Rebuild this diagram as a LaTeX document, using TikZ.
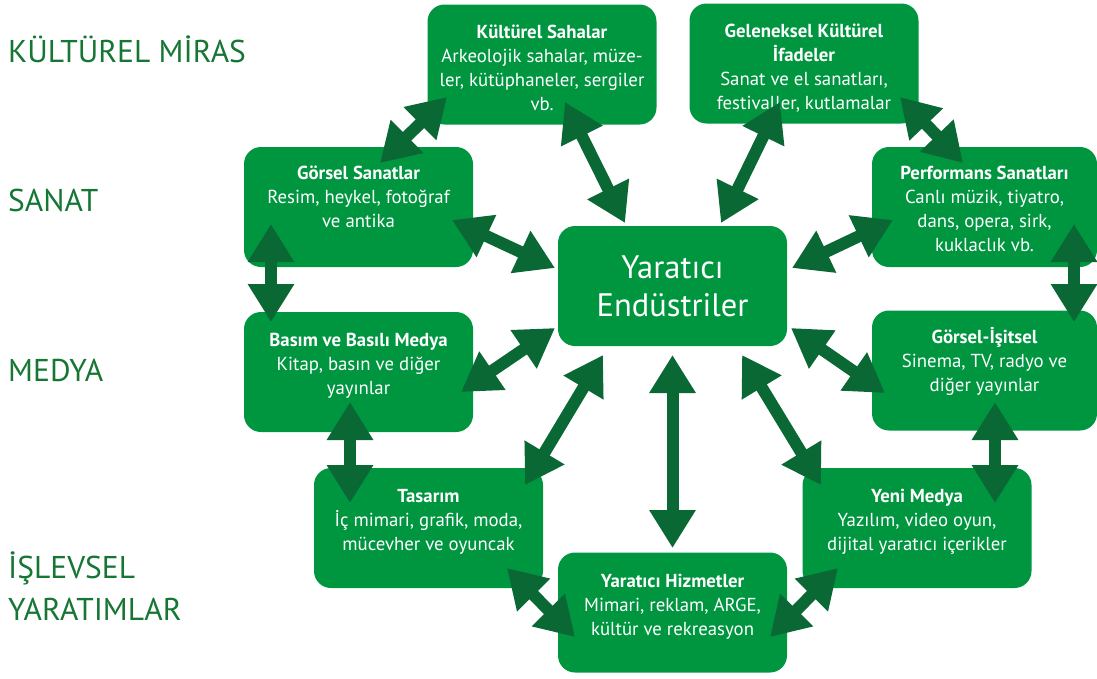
\documentclass[tikz,border=0pt]{standalone}
\usepackage{fontspec}
\setmainfont{PT Sans}
\usetikzlibrary{arrows.meta,positioning}
\definecolor{boxgreen}{RGB}{0,150,64}
\definecolor{arrowgreen}{RGB}{10,104,52}
\definecolor{labelgreen}{RGB}{22,118,52}

\begin{document}
\begin{tikzpicture}[x=1pt,y=-1pt,
  box/.style={fill=boxgreen, rounded corners=17pt, minimum width=229pt, minimum height=120pt, inner sep=0pt},
  boxtxt/.style={align=center, text=white, font=\fontsize{18.8}{24}\selectfont, inner sep=0pt, execute at begin node=\strut},
  area/.style={anchor=base west, text=labelgreen, font=\fontsize{31.5}{40}\selectfont, inner sep=0pt},
  link/.style={arrowgreen, line width=12pt, {Triangle[length=38pt,width=44pt]}-{Triangle[length=38pt,width=44pt]}}]
\useasboundingbox (0,0) rectangle (1097,678);

% areas on the left
\node[area] (km) at (8,62) {KÜLTÜREL MİRAS};
\node[area] (sn) at (8,211) {SANAT};
\node[area] (md) at (8,381) {MEDYA};
\node[area] (is) at (8,578) {İŞLEVSEL};
\node[area] (yr) at (8,620) {YARATIMLAR};

% boxes
\node[box] (ks) at (542,64.5) {};
\node[box] (gk) at (804,63.5) {};
\node[box] (gs) at (358.5,207) {};
\node[box, minimum width=225pt] (ps) at (984.5,207) {};
\node[box, text=white, font=\fontsize{32.5}{38}\selectfont, align=center] (ye) at (672.5,286) {Yaratıcı\\Endüstriler};
\node[box] (bm) at (358.5,372) {};
\node[box, minimum width=225pt] (gi) at (984.5,370.5) {};
\node[box] (ts) at (428.5,528) {};
\node[box] (ym) at (917,528) {};
\node[box] (yh) at (672.5,612.5) {};

% texts in the boxes
\node[boxtxt, below=20pt of ks.north] (ks-t) {\textbf{Kültürel Sahalar}\\Arkeolojik sahalar, müze-\\ler, kütüphaneler, sergiler\\vb.};
\node[boxtxt, below=20pt of gk.north] (gk-t) {\textbf{Geleneksel Kültürel}\\\textbf{İfadeler}\\Sanat ve el sanatları,\\festivaller, kutlamalar};
\node[boxtxt, below=19pt of gs.north] (gs-t) {\textbf{Görsel Sanatlar}\\Resim, heykel, fotoğraf\\ve antika};
\node[boxtxt, below=19pt of ps.north] (ps-t) {\textbf{Performans Sanatları}\\Canlı müzik, tiyatro,\\dans, opera, sirk,\\kuklaclık vb.};
\node[boxtxt, below=21pt of bm.north] (bm-t) {\textbf{Basım ve Basılı Medya}\\Kitap, basın ve diğer\\yayınlar};
\node[boxtxt, below=17pt of gi.north] (gi-t) {\textbf{Görsel-İşitsel}\\Sinema, TV, radyo ve\\diğer yayınlar};
\node[boxtxt, below=21pt of ts.north] (ts-t) {\textbf{Tasarım}\\İç mimari, grafik, moda,\\mücevher ve oyuncak};
\node[boxtxt, below=21pt of ym.north] (ym-t) {\textbf{Yeni Medya}\\Yazılım, video oyun,\\dijital yaratıcı içerikler};
\node[boxtxt, below=22pt of yh.north] (yh-t) {\textbf{Yaratıcı Hizmetler}\\Mimari, reklam, ARGE,\\kültür ve rekreasyon};

% arrows
\draw[link] ([shift={(-95,32.5)}]ks.center) -- ([shift={(21.5,-44)}]gs.center);
\draw[link] ([shift={(23,37.5)}]ks.center) -- ([shift={(-47.5,-63)}]ye.center);
\draw[link] ([shift={(-24,38.5)}]gk.center) -- ([shift={(48.5,-63)}]ye.center);
\draw[link] ([shift={(96,33.5)}]gk.center) -- ([shift={(-21.5,-44)}]ps.center);
\draw[link] ([shift={(93.5,13)}]gs.center) -- ([shift={(-117.5,-18)}]ye.center);
\draw[link] ([shift={(-91.5,13)}]ps.center) -- ([shift={(119.5,-18)}]ye.center);
\draw[link] ([shift={(-87.5,17)}]gs.center) -- ([shift={(-87.5,-50)}]bm.center);
\draw[link] ([shift={(89.5,17)}]ps.center) -- ([shift={(89.5,-48.5)}]gi.center);
\draw[link] ([shift={(102.5,20)}]bm.center) -- ([shift={(-117.5,42)}]ye.center);
\draw[link] ([shift={(-99.5,22.5)}]gi.center) -- ([shift={(118.5,42)}]ye.center);
\draw[link] ([shift={(-8.5,30)}]bm.center) -- ([shift={(-78.5,-25)}]ts.center);
\draw[link] ([shift={(10.5,31.5)}]gi.center) -- ([shift={(78,-25)}]ym.center);
\draw[link] ([shift={(96.5,-43)}]ts.center) -- ([shift={(-69.5,69)}]ye.center);
\draw[link] ([shift={(-96,-43)}]ym.center) -- ([shift={(69.5,69)}]ye.center);
\draw[link] ([shift={(0,69)}]ye.center) -- ([shift={(0,-64.5)}]yh.center);
\draw[link] ([shift={(78.5,40)}]ts.center) -- ([shift={(-97.5,24.5)}]yh.center);
\draw[link] ([shift={(-79,40)}]ym.center) -- ([shift={(97.5,24.5)}]yh.center);
\end{tikzpicture}
\end{document}
